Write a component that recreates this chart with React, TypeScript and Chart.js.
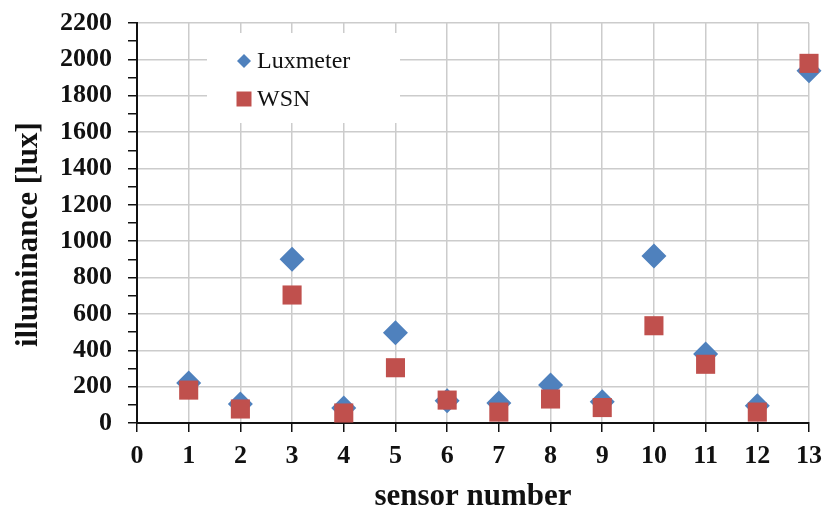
import React, { useEffect, useRef } from "react";
import { Chart, registerables } from "chart.js";

Chart.register(...registerables);

// ---- data ----
const sensors = [1, 2, 3, 4, 5, 6, 7, 8, 9, 10, 11, 12, 13];
const luxmeter = [220, 104, 900, 82, 497, 123, 110, 209, 117, 918, 380, 95, 1938];
const wsn = [181, 77, 704, 55, 304, 126, 60, 132, 85, 535, 323, 60, 1978];
const seriesLabels = ["Luxmeter", "WSN"];
const seriesColors = ["#4f81bd", "#c0504d"];
const xTitle = "sensor number";
const yTitle = "illuminance [lux]";

const SERIF = '"Liberation Serif", "Times New Roman", serif';
const INK = "#111111";
const GRID = "#cccccc";

const boxLegend = {
  id: "boxLegend",
  beforeDatasetsDraw(chart: any) {
    const { ctx, chartArea } = chart;
    const left = chartArea.left + 70;
    const top = chartArea.top + 10;
    ctx.save();
    ctx.fillStyle = "#ffffff";
    ctx.fillRect(left, top, 193, 90);
    chart.data.datasets.forEach((ds: any, i: number) => {
      const cx = left + 37;
      const cy = top + 28 + i * 38;
      ctx.fillStyle = ds.backgroundColor;
      ctx.beginPath();
      if (ds.pointStyle === "rectRot") {
        ctx.moveTo(cx, cy - 7);
        ctx.lineTo(cx + 7, cy);
        ctx.lineTo(cx, cy + 7);
        ctx.lineTo(cx - 7, cy);
        ctx.closePath();
      } else {
        ctx.rect(cx - 7.5, cy - 7.5, 15, 15);
      }
      ctx.fill();
      ctx.fillStyle = INK;
      ctx.font = `24px ${SERIF}`;
      ctx.textBaseline = "middle";
      ctx.textAlign = "left";
      ctx.fillText(ds.label, cx + 13, cy + 1);
    });
    ctx.restore();
  },
};

export default function App() {
  const ref = useRef<HTMLCanvasElement | null>(null);

  useEffect(() => {
    if (!ref.current) return;
    const chart = new Chart(ref.current, {
      type: "scatter",
      data: {
        datasets: [
          {
            label: seriesLabels[0],
            data: sensors.map((s, i) => ({ x: s, y: luxmeter[i] })),
            pointStyle: "rectRot",
            pointRadius: 12.5,
            pointHoverRadius: 12.5,
            backgroundColor: seriesColors[0],
            borderColor: seriesColors[0],
            borderWidth: 0,
            clip: false,
            order: 1,
          },
          {
            label: seriesLabels[1],
            data: sensors.map((s, i) => ({ x: s, y: wsn[i] })),
            pointStyle: "rect",
            pointRadius: 13.5,
            pointHoverRadius: 13.5,
            backgroundColor: seriesColors[1],
            borderColor: seriesColors[1],
            borderWidth: 0,
            clip: false,
            order: 0,
          },
        ],
      },
      options: {
        responsive: false,
        animation: false,
        events: [],
        layout: { autoPadding: false, padding: { top: 23, right: 17, left: 0, bottom: 0 } },
        plugins: {
          legend: { display: false },
          tooltip: { enabled: false },
        },
        scales: {
          x: {
            type: "linear",
            min: 0,
            max: 13,
            afterFit: (s: any) => {
              s.height = 89;
              s.paddingLeft = 0;
              s.paddingRight = 0;
            },
            ticks: {
              stepSize: 1,
              autoSkip: false,
              maxRotation: 0,
              padding: 9,
              color: INK,
              font: { family: SERIF, size: 26, weight: "bold" },
            },
            grid: {
              color: (c: any) => (c.tick && c.tick.value === 0 ? "rgba(0,0,0,0)" : GRID),
              lineWidth: 1.5,
              tickLength: 9,
              tickColor: INK,
              tickWidth: 1.5,
            },
            border: { color: INK, width: 2 },
            title: {
              display: true,
              text: xTitle,
              color: INK,
              font: { family: SERIF, size: 31, weight: "bold", lineHeight: 1 },
              padding: { top: 0, bottom: 0 },
            },
          },
          y: {
            type: "linear",
            min: 0,
            max: 2200,
            afterFit: (s: any) => {
              s.width = 137;
              s.paddingTop = 0;
              s.paddingBottom = 0;
            },
            ticks: {
              stepSize: 100,
              autoSkip: false,
              maxTicksLimit: 100,
              padding: 16,
              color: INK,
              font: { family: SERIF, size: 26, weight: "bold" },
              callback: (v: any) => (Number(v) % 200 === 0 ? String(v) : ""),
            },
            grid: {
              color: (c: any) => {
                const v = c.tick ? c.tick.value : 0;
                return v === 0 || v % 200 !== 0 ? "rgba(0,0,0,0)" : GRID;
              },
              lineWidth: 1.5,
              tickLength: 9,
              tickColor: INK,
              tickWidth: 1.5,
            },
            border: { color: INK, width: 2 },
            title: {
              display: true,
              text: yTitle + "   ",
              color: INK,
              font: { family: SERIF, size: 31, weight: "bold", lineHeight: 1 },
              padding: { top: 13, bottom: 0 },
            },
          },
        },
      },
      plugins: [boxLegend],
    } as any);
    return () => chart.destroy();
  }, []);

  return (
    <div style={{ position: "fixed", left: 0, top: 0, width: 826, height: 512, background: "#fff" }}>
      <canvas ref={ref} width={826} height={512} style={{ display: "block", width: 826, height: 512 }} />
    </div>
  );
}
